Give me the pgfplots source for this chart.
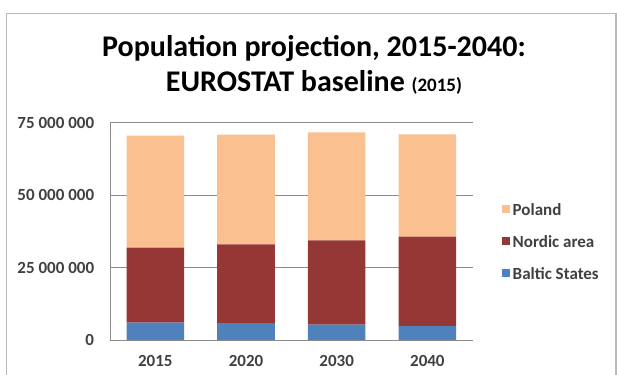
\documentclass[border=0pt]{standalone}
\usepackage{pgfplots}
\pgfplotsset{compat=1.18}
\usepackage{fontspec}
\setmainfont{Carlito}
\definecolor{poland}{HTML}{FAC090}
\definecolor{nordic}{HTML}{953735}
\definecolor{baltic}{HTML}{4F81BD}
\definecolor{ticktext}{HTML}{404040}
\definecolor{gridc}{HTML}{8C8C8C}
\begin{document}
\begin{tikzpicture}
\path[use as bounding box] (0,0) rectangle (617pt,374pt);
% outer frame
\draw[gray!55, line width=1.5pt] (6.7pt,-10pt) -- (6.7pt,360.7pt) -- (616pt,360.7pt) -- (616pt,-10pt);
% title
\node[anchor=base, inner sep=0pt] at (314pt,317.3pt) {\fontsize{30}{36}\selectfont\bfseries Population projection, 2015-2040:};
\node[anchor=base, inner sep=0pt] at (314pt,282pt) {\fontsize{30}{36}\selectfont\bfseries EUROSTAT baseline {\fontsize{19}{22}\selectfont (2015)}};
\begin{axis}[
  at={(110pt,34pt)}, anchor=south west,
  scale only axis, width=362.7pt, height=217.3pt,
  ybar stacked, bar width=57.6pt,
  xmin=-0.5, xmax=3.5, ymin=0, ymax=75000000,
  xtick={0,1,2,3}, xticklabels={2015,2020,2030,2040},
  ytick={0,25000000,50000000,75000000},
  yticklabels={0,25 000 000,50 000 000,75 000 000},
  scaled y ticks=false,
  axis x line*=bottom, axis y line*=left,
  axis line style={draw=gridc, line width=0.8pt},
  ymajorgrids, grid style={draw=gridc, line width=0.8pt},
  major tick length=0pt,
  /pgf/number format/assume math mode=true,
  ticklabel style={font=\fontsize{17}{20}\selectfont\bfseries, text=ticktext},
  yticklabel style={anchor=east, inner sep=0pt, xshift=-15.7pt},
  xticklabel style={anchor=base, inner sep=0pt, yshift=-26.7pt},
  legend style={at={(1.08,0.442)}, anchor=west, draw=none, fill=none,
     inner sep=0pt, outer sep=0pt, row sep=16pt, column sep=3pt,
     nodes={inner sep=0pt, text height=12pt, text depth=4pt,
       font=\fontsize{17}{20}\selectfont\bfseries, text=ticktext}},
  legend cell align=left,
  reverse legend,
  legend image code/.code={\fill[#1, draw=none] (0pt,-1pt) rectangle (8pt,7pt);},
]
\addplot[fill=baltic, draw=none] coordinates {(0,6000000) (1,5800000) (2,5300000) (3,4800000)};
\addplot[fill=nordic, draw=none] coordinates {(0,25900000) (1,27200000) (2,29100000) (3,30900000)};
\addplot[fill=poland, draw=none] coordinates {(0,38600000) (1,37900000) (2,37300000) (3,35300000)};
\legend{Baltic States, Nordic area, Poland}
\end{axis}
\end{tikzpicture}
\end{document}
